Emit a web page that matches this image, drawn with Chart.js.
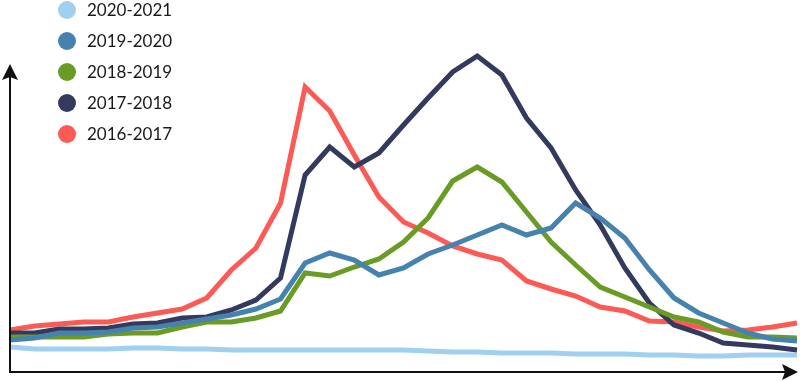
<!DOCTYPE html>
<html>
<head>
<meta charset="utf-8">
<script src="https://cdn.jsdelivr.net/npm/chart.js@4"></script>
<style>
  html, body { margin: 0; padding: 0; background: #fff; }
  #wrap { width: 800px; height: 381px; position: relative; }
</style>
</head>
<body>
<div id="wrap"><canvas id="flu"></canvas></div>
<script>
// ---------- data (height above the x axis) ----------
const weeks = Array.from({ length: 33 }, (_, i) => "W" + (i + 1));

const seasons = ["2020-2021", "2019-2020", "2018-2019", "2017-2018", "2016-2017"];
const colors  = ["#9fd0ef", "#4682ae", "#6a9c25", "#343a5e", "#fc5b55"];

const s2020 = [25, 23, 23, 23, 23, 24, 24, 23, 23, 22, 22, 22, 22, 22, 22, 22, 22, 21, 20, 20, 19, 19, 19, 18, 18, 18, 17, 17, 16, 16, 17, 17, 17];
const s2019 = [32, 34, 39, 39, 40, 44, 45, 49, 53, 57, 63, 73, 109, 119, 112, 97, 104, 118, 127, 137, 147, 137, 144, 169, 154, 134, 102, 74, 59, 49, 39, 33, 31];
const s2018 = [35, 35, 35, 35, 38, 39, 39, 45, 50, 50, 54, 61, 99, 96, 105, 113, 130, 154, 191, 205, 190, 160, 130, 107, 85, 75, 65, 55, 50, 40, 35, 35, 34];
const s2017 = [39, 39, 43, 43, 44, 48, 49, 54, 55, 62, 72, 94, 197, 225, 205, 219, 247, 274, 300, 316, 297, 254, 224, 182, 147, 104, 69, 47, 39, 29, 27, 25, 22];
const s2016 = [42, 46, 48, 50, 50, 55, 59, 63, 74, 102, 124, 169, 285, 261, 217, 175, 150, 139, 126, 118, 112, 91, 83, 76, 65, 61, 51, 50, 45, 41, 42, 45, 49];

const seriesValues = [s2020, s2019, s2018, s2017, s2016];

// ---------- axes with arrows + legend drawn by hand ----------
const arrows = {
  id: "arrows",
  afterDraw(chart) {
    const { ctx, chartArea: { left, right, bottom } } = chart;
    ctx.save();
    ctx.strokeStyle = "#111";
    ctx.fillStyle = "#111";
    ctx.lineWidth = 2;
    ctx.beginPath();
    ctx.moveTo(left, 66);
    ctx.lineTo(left, bottom);
    ctx.lineTo(right - 6, bottom);
    ctx.stroke();
    // up arrow
    ctx.beginPath();
    ctx.moveTo(left, 64);
    ctx.lineTo(left + 8, 80);
    ctx.lineTo(left, 77);
    ctx.lineTo(left - 8, 80);
    ctx.closePath();
    ctx.fill();
    // right arrow
    ctx.beginPath();
    ctx.moveTo(right + 1, bottom);
    ctx.lineTo(right - 15, bottom - 8);
    ctx.lineTo(right - 12, bottom);
    ctx.lineTo(right - 15, bottom + 8);
    ctx.closePath();
    ctx.fill();
    ctx.restore();
  }
};

const legendDots = {
  id: "legendDots",
  afterDraw(chart) {
    const { ctx } = chart;
    ctx.save();
    ctx.font = "17px Lato, sans-serif";
    ctx.textBaseline = "middle";
    chart.data.datasets.forEach((ds, i) => {
      const y = 10 + i * 31;
      ctx.fillStyle = ds.borderColor;
      ctx.beginPath();
      ctx.arc(67, y, 9, 0, Math.PI * 2);
      ctx.fill();
      ctx.fillStyle = "#1a1a1a";
      ctx.fillText(ds.label, 87, y + 1);
    });
    ctx.restore();
  }
};

const datasets = seasons.map((name, i) => ({
  label: name,
  data: seriesValues[i],
  borderColor: colors[i],
  backgroundColor: colors[i],
  borderWidth: 5,
  pointRadius: 0,
  tension: 0,
  borderJoinStyle: "miter",
  order: i === 0 ? 10 : i
}));

new Chart(document.getElementById("flu"), {
  type: "line",
  data: { labels: weeks, datasets },
  options: {
    responsive: true,
    maintainAspectRatio: false,
    animation: false,
    layout: { padding: { left: 10, right: 3, top: 0, bottom: 9 } },
    plugins: { legend: { display: false }, tooltip: { enabled: false } },
    scales: {
      x: { display: false, offset: false },
      y: { display: false, min: 0, max: 372 }
    }
  },
  plugins: [arrows, legendDots]
});
</script>
</body>
</html>
